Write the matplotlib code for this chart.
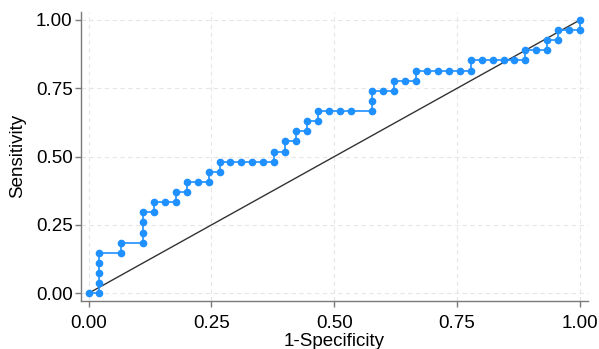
import matplotlib
matplotlib.use('Agg')
import matplotlib.pyplot as plt

# ROC points as counts: false positives (of 45 negatives), true positives (of 27 positives)
n_neg = 45
n_pos = 27
fp = [0, 1, 1, 1, 1, 1, 3, 3, 5, 5, 5, 5, 6, 6, 7, 8, 8, 9, 9, 10,
      11, 11, 12, 12, 13, 14, 15, 16, 17, 17, 18, 18, 19, 19, 20, 20, 21, 21, 22, 23,
      24, 26, 26, 26, 27, 28, 28, 29, 30, 30, 31, 32, 33, 34, 35, 35, 36, 37, 38, 39,
      40, 40, 41, 42, 42, 43, 43, 44, 45, 45]
tp = [0, 0, 1, 2, 3, 4, 4, 5, 5, 6, 7, 8, 8, 9, 9, 9, 10, 10, 11, 11,
      11, 12, 12, 13, 13, 13, 13, 13, 13, 14, 14, 15, 15, 16, 16, 17, 17, 18, 18, 18,
      18, 18, 19, 20, 20, 20, 21, 21, 21, 22, 22, 22, 22, 22, 22, 23, 23, 23, 23, 23,
      23, 24, 24, 24, 25, 25, 26, 26, 26, 27]

x = [v / n_neg for v in fp]
y = [v / n_pos for v in tp]
ticks = [0, 0.25, 0.5, 0.75, 1.0]
ticklabels = ['0.00', '0.25', '0.50', '0.75', '1.00']

plt.rcParams['font.family'] = ['Liberation Sans', 'DejaVu Sans']

fig = plt.figure(figsize=(5.99, 3.49), dpi=100)
ax = fig.add_axes([0.1352, 0.1384, 0.9816 - 0.1352, 0.9656 - 0.1384])

ax.plot([0, 1], [0, 1], color='#333333', lw=1.0, zorder=2)
ax.plot(x, y, '-o', color='#1E90FF', lw=1.2, ms=4.5, mec='#1E90FF', zorder=3)

ax.set_xlim(-0.0153, 1.0163)
ax.set_ylim(-0.027, 1.029)
ax.set_xticks(ticks)
ax.set_xticklabels(ticklabels)
ax.set_yticks(ticks)
ax.set_yticklabels(ticklabels)
ax.grid(True, color='#E6E6E6', ls=(0, (4, 3)), lw=0.8)
ax.set_axisbelow(True)

for s in ['top', 'right']:
    ax.spines[s].set_visible(False)
for s in ['left', 'bottom']:
    ax.spines[s].set_color('#7A7A7A')
    ax.spines[s].set_linewidth(1.0)
ax.tick_params(colors='#7A7A7A', labelcolor='black', length=4, width=1.0,
               labelsize=13.5)
ax.tick_params(axis='x', pad=6)
ax.tick_params(axis='y', pad=2)

ax.set_xlabel('1-Specificity', fontsize=13.5, labelpad=1)
ax.set_ylabel('Sensitivity', fontsize=13.5, labelpad=7)

fig.savefig('out.png', dpi=100)
